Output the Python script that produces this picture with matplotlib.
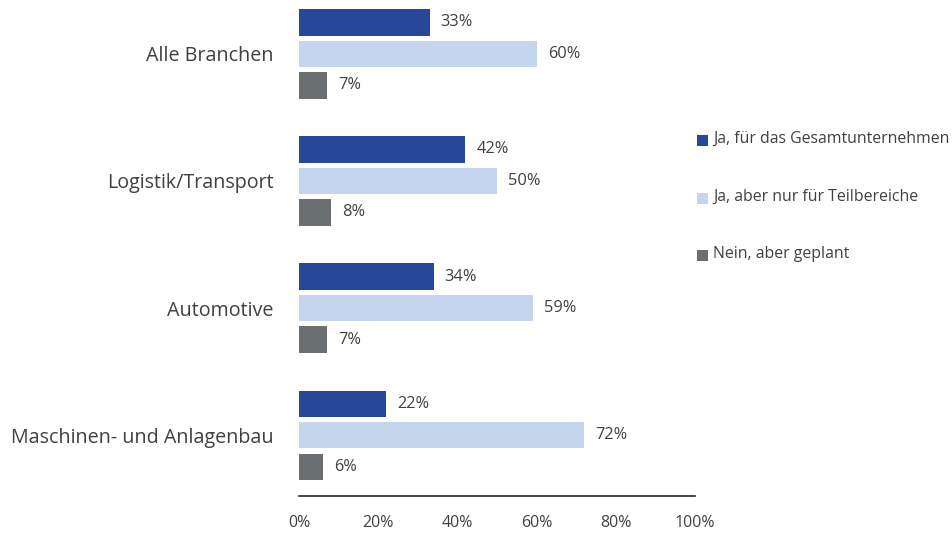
import numpy as np
import matplotlib.pyplot as plt
from matplotlib.patches import Rectangle

plt.rcParams['font.family'] = ['Open Sans', 'DejaVu Sans']

categories = ["Alle Branchen", "Logistik/Transport", "Automotive", "Maschinen- und Anlagenbau"]
series_names = ["Ja, für das Gesamtunternehmen", "Ja, aber nur für Teilbereiche", "Nein, aber geplant"]
gesamt = [33, 42, 34, 22]
teilbereiche = [60, 50, 59, 72]
geplant = [7, 8, 7, 6]
xticks = [0, 20, 40, 60, 80, 100]
xtick_labels = ["0%", "20%", "40%", "60%", "80%", "100%"]

colors = ["#27489A", "#C5D5EE", "#6A6F72"]
text_color = "#404040"

W, H = 953, 533
fig = plt.figure(figsize=(W / 100, H / 100), dpi=100)
ax = fig.add_axes([299 / W, (H - 496) / H, (695 - 299) / W, 496 / H])

pos = np.arange(len(categories))
offset = 0.248
height = 0.205
for k, vals in enumerate([gesamt, teilbereiche, geplant]):
    y = pos + (k - 1) * offset
    ax.barh(y, vals, height=height, color=colors[k], edgecolor="none")
    for yi, v in zip(y, vals):
        ax.annotate(f"{v}%", (v, yi), xytext=(8, 0), textcoords="offset points",
                    va="center", ha="left", fontsize=11.8, color=text_color)

ax.set_xlim(0, 100)
ax.set_ylim(3.48, -0.425)
for s in ["top", "right", "left"]:
    ax.spines[s].set_visible(False)
ax.spines["bottom"].set_color("#262626")
ax.spines["bottom"].set_linewidth(1.2)
ax.set_yticks(pos)
ax.set_yticklabels(categories, fontsize=14.2, color=text_color)
ax.tick_params(axis="y", length=0, pad=18)
ax.set_xticks(xticks)
ax.set_xticklabels(xtick_labels, fontsize=11.5, color=text_color)
ax.tick_params(axis="x", length=0, pad=14)

# legend drawn as swatches with labels
leg_y = [140, 198, 255]
for name, c, yp in zip(series_names, colors, leg_y):
    fig.patches.append(Rectangle((697 / W, (H - yp - 5.5) / H), 11 / W, 11 / H,
                                 transform=fig.transFigure, facecolor=c, edgecolor="none"))
    fig.text(713 / W, (H - yp + 1) / H, name, fontsize=11.4, color=text_color,
             va="center", ha="left")

fig.savefig("out.png", dpi=100)
